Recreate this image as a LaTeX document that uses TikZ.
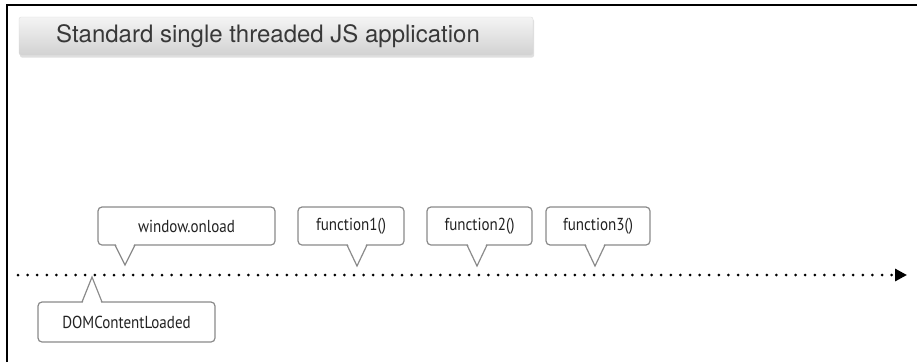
\documentclass[tikz,border=0pt]{standalone}
\usepackage{fontspec}
\setmainfont{TeX Gyre Heros}
\newfontfamily\calloutfont{PT Sans}
\usetikzlibrary{arrows.meta,calc}
\definecolor{boxline}{HTML}{8A8A8A}
\definecolor{txt}{HTML}{222222}
\definecolor{titletop}{HTML}{F4F4F4}
\definecolor{titlebot}{HTML}{D2D2D2}
\newcommand{\ct}[1]{\scalebox{0.97}[1.12]{#1}}
\tikzset{
  callout/.style={draw=boxline, line width=1.2pt, rounded corners=4pt, fill=white,
    inner sep=0pt, minimum height=38pt, text=txt, font=\calloutfont\fontsize{15.5}{18}\selectfont},
  pointerline/.style={draw=boxline, line width=1.2pt, line join=miter},
  titlebox/.style={rounded corners=2pt, top color=titletop, bottom color=titlebot,
    draw=gray!30, line width=0.3pt, minimum width=514pt, minimum height=38pt,
    text=txt!90, font=\fontsize{24}{28}\selectfont},
  timeline/.style={line width=3pt, line cap=round, dash pattern=on 0pt off 9.6pt,
    -{Triangle[length=12pt,width=12pt]}}
}
\newcommand{\pointerdown}[4]{% base y, tip x, tip y, half-width
  \fill[white] (#2-#4+0.6,#1-1.5) -- (#2+#4-0.6,#1-1.5) -- (#2,#3-1) -- cycle;
  \draw[pointerline] (#2-#4,#1) -- (#2,#3) -- (#2+#4,#1);}
\begin{document}
\begin{tikzpicture}[x=1pt,y=-1pt]
\useasboundingbox (0,0) rectangle (917,362);
% frame
\draw[line width=1.6pt, black] (7,362) -- (7,5) -- (917,5);
% title shadow + box
\fill[gray!25, rounded corners=2pt] (20,19) rectangle (534,57.5);
\node[titlebox] (title) at (276,36) {\hspace*{-16pt}Standard single threaded JS application};
% timeline
\coordinate (tstart) at (18,275);
\coordinate (tend) at (907,275);
\draw[timeline] (tstart) -- (tend);
% callouts above
\node[callout, minimum width=177pt] (wo) at (186.5,226) {\ct{window.onload}};
\pointerdown{245}{125}{265}{10}
\node[callout, minimum width=106pt] (f1) at (351,226) {\ct{function1()}};
\pointerdown{245}{357}{266}{10}
\node[callout, minimum width=105pt] (f2) at (479.5,226) {\ct{function2()}};
\pointerdown{245}{477}{266}{10}
\node[callout, minimum width=104pt] (f3) at (598,226) {\ct{function3()}};
\pointerdown{245}{595}{266}{10}
% callout below
\node[callout, minimum width=177pt, minimum height=40pt] (dom) at (126.5,322) {\ct{DOMContentLoaded}};
\fill[white] (82.6,303.5) -- (101.4,303.5) -- (92,278) -- cycle;
\draw[pointerline] (82,302) -- (92,277) -- (102,302);
\end{tikzpicture}
\end{document}
